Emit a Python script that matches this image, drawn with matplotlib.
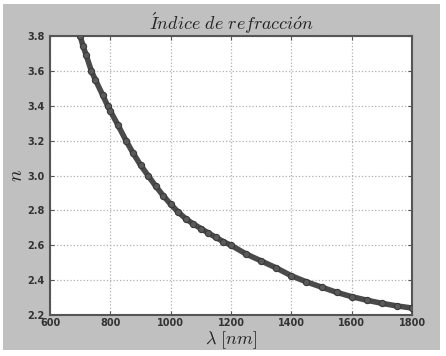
import matplotlib
matplotlib.use("Agg")
import matplotlib.pyplot as plt
from matplotlib.patches import Rectangle

# Refractive index
wavelength = [700, 710, 720, 737, 750, 775, 791, 800, 825, 852, 875, 900,
              925, 950, 975, 1000, 1025, 1050, 1075, 1100, 1125, 1150, 1175,
              1200, 1250, 1300, 1350, 1400, 1450, 1500, 1550, 1600, 1650,
              1700, 1750, 1800]
n_index = [3.80, 3.74, 3.69, 3.60, 3.55, 3.46, 3.40, 3.37, 3.29, 3.20, 3.13, 3.06,
           3.00, 2.94, 2.885, 2.835, 2.79, 2.752, 2.722, 2.696, 2.67, 2.645, 2.62,
           2.60, 2.55, 2.51, 2.47, 2.425, 2.39, 2.36, 2.33, 2.305, 2.285,
           2.267, 2.252, 2.24]

x_ticks = [600, 800, 1000, 1200, 1400, 1600, 1800]
y_ticks = [2.2, 2.4, 2.6, 2.8, 3.0, 3.2, 3.4, 3.6, 3.8]

plt.rcParams['mathtext.fontset'] = 'cm'

fig = plt.figure(figsize=(4.46, 3.56), dpi=100)
fig.patch.set_facecolor('white')
# gray panel with a thin white frame round it
fig.patches.append(Rectangle((3 / 446, 6 / 356), 437 / 446, 346 / 356,
                             transform=fig.transFigure, facecolor='#c0c0c0',
                             edgecolor='none', zorder=-10))

ax = fig.add_axes([50 / 446, 41 / 356, 362 / 446, 279 / 356])
ax.set_facecolor('white')

ax.plot(wavelength, n_index, color='#4a4a4a', lw=4, solid_capstyle='round',
        zorder=3)
ax.plot(wavelength, n_index, 'o', color='#5a5a5a', markeredgecolor='#3a3a3a',
        markersize=4.5, markeredgewidth=0.8, zorder=4)

ax.set_xlim(600, 1800)
ax.set_ylim(2.2, 3.8)
ax.set_xticks(x_ticks)
ax.set_yticks(y_ticks)
ax.set_yticklabels([f"{v:.1f}" for v in y_ticks])
ax.tick_params(direction='in', length=3, width=0.8, color='#555555',
               labelsize=7, labelcolor='#333333', top=True, right=True)
ax.tick_params(axis='x', pad=2)
ax.tick_params(axis='y', pad=4)
for lab in ax.get_xticklabels() + ax.get_yticklabels():
    lab.set_fontweight('bold')

ax.grid(True, linestyle=':', color='#b0b0b0', lw=0.9)
for sp in ax.spines.values():
    sp.set_color('#555555')
    sp.set_linewidth(1.5)

ax.set_title(r'$\acute{I}ndice\ de\ refracci\acute{o}n$', fontsize=13,
             color='#222222', pad=4)
ax.set_xlabel(r'$\lambda\ [nm]$', fontsize=13, color='#222222', labelpad=1)
ax.set_ylabel(r'$n$', fontsize=14, color='#222222', labelpad=1)

fig.savefig('out.png', dpi=100, facecolor=fig.get_facecolor())
